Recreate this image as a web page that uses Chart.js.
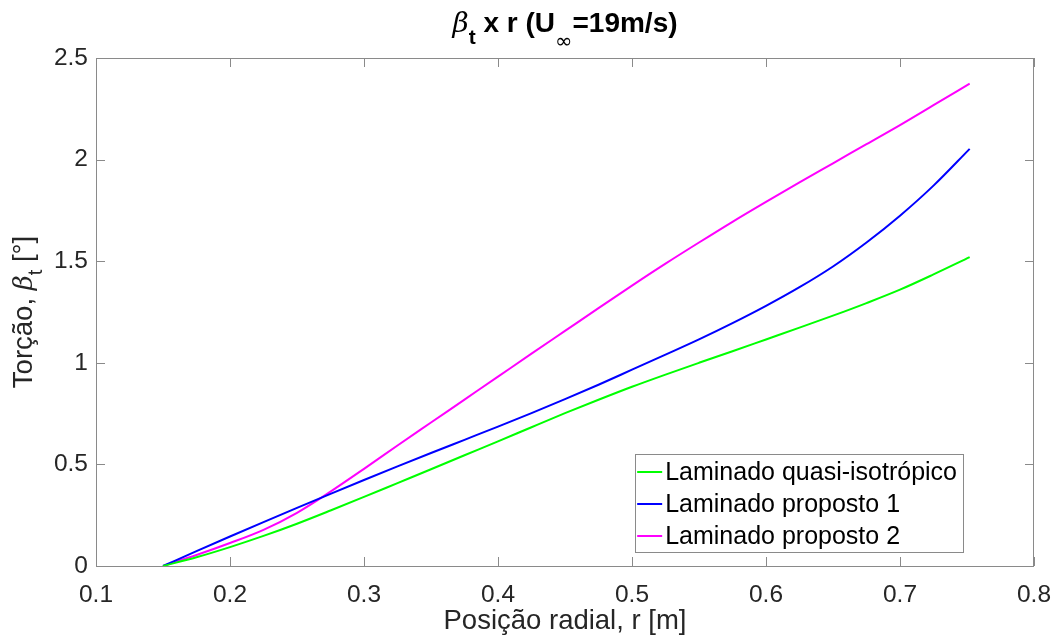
<!DOCTYPE html>
<html>
<head>
<meta charset="utf-8">
<script src="https://cdn.jsdelivr.net/npm/chart.js@4/dist/chart.umd.min.js"></script>
<style>
  body { margin: 0; background: #fff; }
  canvas { display: block; }
</style>
</head>
<body>
<canvas id="chart" width="1054" height="638"></canvas>
<script>
// radial position r [m]
var radius = [0.15, 0.175, 0.2, 0.225, 0.25, 0.275, 0.3, 0.325, 0.35, 0.375, 0.4, 0.425, 0.45,
              0.475, 0.5, 0.525, 0.55, 0.575, 0.6, 0.625, 0.65, 0.675, 0.7, 0.725, 0.752];
// twist beta_t [deg]
var quasiIsotropic = [0, 0.043, 0.093, 0.148, 0.208, 0.273, 0.34, 0.408, 0.476, 0.545, 0.613, 0.683, 0.752,
                      0.818, 0.882, 0.942, 1.0, 1.057, 1.115, 1.173, 1.232, 1.294, 1.36, 1.435, 1.52];
var proposed1 = [0, 0.073, 0.145, 0.216, 0.286, 0.355, 0.423, 0.49, 0.556, 0.621, 0.686, 0.752, 0.821,
                 0.892, 0.966, 1.04, 1.115, 1.195, 1.28, 1.372, 1.474, 1.592, 1.724, 1.872, 2.053];
var proposed2 = [0, 0.054, 0.113, 0.178, 0.262, 0.366, 0.478, 0.593, 0.706, 0.819, 0.932, 1.045, 1.157,
                 1.269, 1.38, 1.488, 1.592, 1.694, 1.792, 1.888, 1.982, 2.076, 2.17, 2.268, 2.374];

var seriesLabels = ["Laminado quasi-isotrópico", "Laminado proposto 1", "Laminado proposto 2"];
var seriesColors = ["#00ff00", "#0000ff", "#ff00ff"];
var xTickLabels = ["0.1", "0.2", "0.3", "0.4", "0.5", "0.6", "0.7", "0.8"];
var yTickLabels = ["0", "0.5", "1", "1.5", "2", "2.5"];

const FONT = "'Liberation Sans', Arial, sans-serif";
const TEXT_COLOR = "#262626";
const AXIS_COLOR = "#8a8a8a";

function toPoints(ys) {
    var pts = [];
    for (var i = 0; i < radius.length; i++) pts.push({ x: radius[i], y: ys[i] });
    return pts;
}

// draws a row of text pieces (with sub-scripts) centred on 0,0 of current transform
function drawPieces(ctx, pieces) {
    var total = 0;
    for (var i = 0; i < pieces.length; i++) {
        ctx.font = pieces[i].font;
        pieces[i].w = ctx.measureText(pieces[i].text).width;
        total += pieces[i].w;
    }
    var x = -total / 2;
    ctx.textAlign = "left";
    ctx.textBaseline = "alphabetic";
    for (var i = 0; i < pieces.length; i++) {
        ctx.font = pieces[i].font;
        ctx.fillText(pieces[i].text, x, pieces[i].dy || 0);
        x += pieces[i].w;
    }
}

var matlabFrame = {
    id: "matlabFrame",
    afterDraw: function (chart) {
        var ctx = chart.ctx;
        var area = chart.chartArea;
        var xs = chart.scales.x, ys = chart.scales.y;
        var TICK = 9;

        ctx.save();
        // box
        ctx.strokeStyle = AXIS_COLOR;
        ctx.lineWidth = 1;
        ctx.strokeRect(area.left + 0.5, area.top + 0.5, area.right - area.left - 1, area.bottom - area.top);

        // inward ticks on all four sides
        ctx.beginPath();
        xs.ticks.forEach(function (t) {
            var px = Math.round(xs.getPixelForValue(t.value)) + 0.5;
            ctx.moveTo(px, area.bottom); ctx.lineTo(px, area.bottom - TICK);
            ctx.moveTo(px, area.top); ctx.lineTo(px, area.top + TICK);
        });
        ys.ticks.forEach(function (t) {
            var py = Math.round(ys.getPixelForValue(t.value)) + 0.5;
            ctx.moveTo(area.left, py); ctx.lineTo(area.left + TICK, py);
            ctx.moveTo(area.right, py); ctx.lineTo(area.right - TICK, py);
        });
        ctx.stroke();

        // title
        ctx.fillStyle = "#000";
        ctx.save();
        ctx.translate((area.left + area.right) / 2, 32);
        drawPieces(ctx, [
            { text: "β", font: "italic 28px 'DejaVu Serif', serif" },
            { text: "t", font: "bold 21px " + FONT, dy: 12 },
            { text: " x r (U", font: "bold 28px " + FONT },
            { text: "∞", font: "21px 'DejaVu Sans', sans-serif", dy: 16 },
            { text: "=19m/s)", font: "bold 28px " + FONT }
        ]);
        ctx.restore();

        // y axis title
        ctx.fillStyle = TEXT_COLOR;
        ctx.save();
        ctx.translate(32, (area.top + area.bottom) / 2);
        ctx.rotate(-Math.PI / 2);
        drawPieces(ctx, [
            { text: "Torção, ", font: "27.5px " + FONT },
            { text: "β", font: "italic 26px 'DejaVu Serif', serif" },
            { text: "t", font: "20px " + FONT, dy: 10 },
            { text: " [°]", font: "27.5px " + FONT }
        ]);
        ctx.restore();

        // legend
        ctx.font = "25px " + FONT;
        var maxW = 0;
        chart.data.datasets.forEach(function (ds) {
            maxW = Math.max(maxW, ctx.measureText(ds.label).width);
        });
        var boxW = 30 + maxW + 6;
        var boxH = 98;
        var bx = area.right - 71 - boxW;
        var by = area.bottom - 14 - boxH;
        ctx.fillStyle = "#fff";
        ctx.fillRect(bx, by, boxW, boxH);
        ctx.strokeStyle = AXIS_COLOR;
        ctx.strokeRect(Math.round(bx) + 0.5, Math.round(by) + 0.5, Math.round(boxW), boxH);
        chart.data.datasets.forEach(function (ds, i) {
            var cy = by + 18 + i * 32;
            ctx.strokeStyle = ds.borderColor;
            ctx.lineWidth = 2;
            ctx.beginPath();
            ctx.moveTo(bx + 2, cy);
            ctx.lineTo(bx + 27, cy);
            ctx.stroke();
            ctx.fillStyle = "#000";
            ctx.textAlign = "left";
            ctx.textBaseline = "middle";
            ctx.fillText(ds.label, bx + 30, cy + 1);
        });
        ctx.restore();
    }
};

var datasets = [quasiIsotropic, proposed1, proposed2].map(function (ys, i) {
    return {
        label: seriesLabels[i],
        data: toPoints(ys),
        borderColor: seriesColors[i],
        backgroundColor: seriesColors[i],
        borderWidth: 2,
        pointRadius: 0,
        fill: false,
        cubicInterpolationMode: "monotone"
    };
});

new Chart(document.getElementById("chart"), {
    type: "line",
    data: { datasets: datasets },
    options: {
        responsive: false,
        animation: false,
        layout: { padding: { top: 58, right: 20, left: 0, bottom: 0 } },
        plugins: {
            legend: { display: false },
            title: { display: false },
            tooltip: { enabled: false }
        },
        scales: {
            x: {
                type: "linear",
                min: 0.1,
                max: 0.8,
                border: { display: false },
                grid: { display: false, drawTicks: false },
                ticks: {
                    stepSize: 0.1,
                    padding: 15,
                    color: TEXT_COLOR,
                    font: { family: FONT, size: 24.5 },
                    callback: function (v) {
                        var i = Math.round((v - 0.1) * 10);
                        return xTickLabels[i];
                    }
                },
                title: {
                    display: true,
                    text: "Posição radial, r [m]",
                    color: TEXT_COLOR,
                    font: { family: FONT, size: 27.5 },
                    padding: 0
                },
                afterFit: function (scale) {
                    scale.height = 72;
                    scale.paddingLeft = 0;
                    scale.paddingRight = 0;
                }
            },
            y: {
                min: 0,
                max: 2.5,
                border: { display: false },
                grid: { display: false, drawTicks: false },
                ticks: {
                    stepSize: 0.5,
                    padding: 8,
                    color: TEXT_COLOR,
                    font: { family: FONT, size: 24.5 },
                    callback: function (v) {
                        return yTickLabels[Math.round(v * 2)];
                    }
                },
                afterFit: function (scale) {
                    scale.width = 96;
                    scale.paddingTop = 0;
                    scale.paddingBottom = 0;
                }
            }
        }
    },
    plugins: [matlabFrame]
});
</script>
</body>
</html>
